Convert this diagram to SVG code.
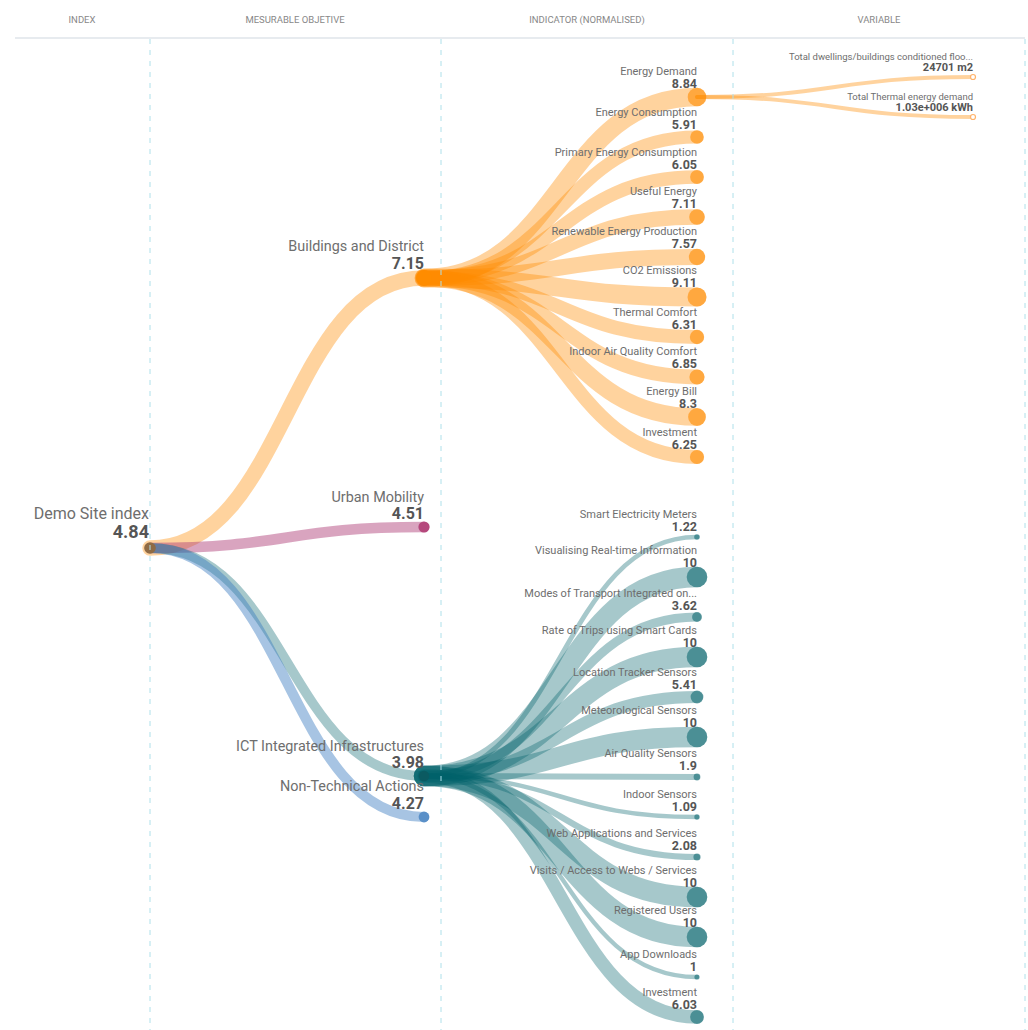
<svg xmlns="http://www.w3.org/2000/svg" width="1028" height="1030" viewBox="0 0 1028 1030">
<style>
text{font-family:Roboto,"Liberation Sans",sans-serif}
.hd{font-size:9.5px;fill:#888;text-anchor:middle}
.lk{fill:none;stroke-linecap:round}
.o{stroke:#ff8c00;stroke-opacity:.38}
.t{stroke:#00606a;stroke-opacity:.35}
.p{stroke:#b0407a;stroke-opacity:.48}
.b{stroke:#3c7dc0;stroke-opacity:.45}
.co{fill:#ff8c00;fill-opacity:.6}
.ct{fill:#00606a;fill-opacity:.55}
.c3{fill:#fff;stroke:#ffb36b;stroke-width:1.2}
.n0{font-size:16px;fill:#6e6e6e;text-anchor:end}
.v0{font-size:18px;font-weight:bold;fill:#555;text-anchor:end}
.n1{font-size:14.4px;fill:#6e6e6e;text-anchor:end}
.v1{font-size:16px;font-weight:bold;fill:#555;text-anchor:end}
.n2{font-size:11px;fill:#6e6e6e;text-anchor:end}
.v2{font-size:12.5px;font-weight:bold;fill:#555;text-anchor:end}
.n3{font-size:9.5px;fill:#6e6e6e;text-anchor:end}
.v3{font-size:11px;font-weight:bold;fill:#555;text-anchor:end}
.grid{stroke:#aee0ea;stroke-width:1;stroke-dasharray:5,6}
</style>
<rect width="1028" height="1030" fill="#fff"/>
<g id="header">
<text class="hd" x="82" y="23">INDEX</text>
<text class="hd" x="295" y="23">MESURABLE OBJETIVE</text>
<text class="hd" x="587" y="23">INDICATOR (NORMALISED)</text>
<text class="hd" x="879" y="23">VARIABLE</text>
<line x1="15" y1="38" x2="1025" y2="38" stroke="#dfe5ea" stroke-width="1.5"/>
</g>
<g id="connectors">
<path class="lk o" stroke-width="15.4" d="M150,548 C287,548 287,278 424,278"/>
<path class="lk p" stroke-width="10.6" d="M150,548 C287,548 287,527 424,527"/>
<path class="lk t" stroke-width="9.7" d="M150,548 C287,548 287,776 424,776"/>
<path class="lk b" stroke-width="10.2" d="M150,548 C287,548 287,817 424,817"/>
<path class="lk o" stroke-width="18.4" d="M424,278 C560.5,278 560.5,97 697,97"/>
<path class="lk o" stroke-width="13.1" d="M424,278 C560.5,278 560.5,137 697,137"/>
<path class="lk o" stroke-width="13.4" d="M424,278 C560.5,278 560.5,177 697,177"/>
<path class="lk o" stroke-width="15.3" d="M424,278 C560.5,278 560.5,217 697,217"/>
<path class="lk o" stroke-width="16.1" d="M424,278 C560.5,278 560.5,257 697,257"/>
<path class="lk o" stroke-width="18.9" d="M424,278 C560.5,278 560.5,297 697,297"/>
<path class="lk o" stroke-width="13.9" d="M424,278 C560.5,278 560.5,337 697,337"/>
<path class="lk o" stroke-width="14.8" d="M424,278 C560.5,278 560.5,377 697,377"/>
<path class="lk o" stroke-width="17.4" d="M424,278 C560.5,278 560.5,417 697,417"/>
<path class="lk o" stroke-width="13.8" d="M424,278 C560.5,278 560.5,457 697,457"/>
<path class="lk t" stroke-width="4.7" d="M424,776 C560.5,776 560.5,537 697,537"/>
<path class="lk t" stroke-width="20.5" d="M424,776 C560.5,776 560.5,577 697,577"/>
<path class="lk t" stroke-width="9" d="M424,776 C560.5,776 560.5,617 697,617"/>
<path class="lk t" stroke-width="20.5" d="M424,776 C560.5,776 560.5,657 697,657"/>
<path class="lk t" stroke-width="12.2" d="M424,776 C560.5,776 560.5,697 697,697"/>
<path class="lk t" stroke-width="20.5" d="M424,776 C560.5,776 560.5,737 697,737"/>
<path class="lk t" stroke-width="5.9" d="M424,776 C560.5,776 560.5,777 697,777"/>
<path class="lk t" stroke-width="4.5" d="M424,776 C560.5,776 560.5,817 697,817"/>
<path class="lk t" stroke-width="6.2" d="M424,776 C560.5,776 560.5,857 697,857"/>
<path class="lk t" stroke-width="20.5" d="M424,776 C560.5,776 560.5,897 697,897"/>
<path class="lk t" stroke-width="20.5" d="M424,776 C560.5,776 560.5,937 697,937"/>
<path class="lk t" stroke-width="4.3" d="M424,776 C560.5,776 560.5,977 697,977"/>
<path class="lk t" stroke-width="13.4" d="M424,776 C560.5,776 560.5,1017 697,1017"/>
<path class="lk o" stroke-width="4" d="M697,97 C835,97 835,77 973,77"/>
<path class="lk o" stroke-width="4" d="M697,97 C835,97 835,117 973,117"/>
</g>
<g id="node-root">
<circle cx="150" cy="548" r="5.8" fill="#8f6b45"/>
<text class="n0" x="149" y="519">Demo Site index</text>
<text class="v0" x="149" y="538">4.84</text>
</g>
<g id="node-buildings">
<circle cx="424" cy="278" r="7.9" fill="#ff8c00"/>
<text class="n1" x="424" y="251">Buildings and District</text>
<text class="v1" x="424" y="268.5">7.15</text>
</g>
<g id="node-mobility">
<circle cx="424" cy="527" r="5.6" fill="#b5487c"/>
<text class="n1" x="424" y="502">Urban Mobility</text>
<text class="v1" x="424" y="519">4.51</text>
</g>
<g id="node-ict">
<circle cx="424" cy="776" r="5.2" fill="#0b5a61"/>
<text class="n1" x="424" y="751">ICT Integrated Infrastructures</text>
<text class="v1" x="424" y="768">3.98</text>
</g>
<g id="node-nontech">
<circle cx="424" cy="817" r="5.4" fill="#5a90c8"/>
<text class="n1" x="424" y="791">Non-Technical Actions</text>
<text class="v1" x="424" y="809">4.27</text>
</g>
<g id="node-energy-demand"><circle class="co" cx="697" cy="97" r="9.3"/><text class="n2" x="697" y="74.5">Energy Demand</text><text class="v2" x="697" y="87.5">8.84</text></g>
<g id="node-energy-consumption"><circle class="co" cx="697" cy="137" r="6.8"/><text class="n2" x="697" y="115.5">Energy Consumption</text><text class="v2" x="697" y="128.5">5.91</text></g>
<g id="node-primary-energy"><circle class="co" cx="697" cy="177" r="6.9"/><text class="n2" x="697" y="155.5">Primary Energy Consumption</text><text class="v2" x="697" y="168.5">6.05</text></g>
<g id="node-useful-energy"><circle class="co" cx="697" cy="217" r="7.8"/><text class="n2" x="697" y="195">Useful Energy</text><text class="v2" x="697" y="208">7.11</text></g>
<g id="node-renewable"><circle class="co" cx="697" cy="257" r="8.2"/><text class="n2" x="697" y="235">Renewable Energy Production</text><text class="v2" x="697" y="248">7.57</text></g>
<g id="node-co2"><circle class="co" cx="697" cy="297" r="9.5"/><text class="n2" x="697" y="274">CO2 Emissions</text><text class="v2" x="697" y="287">9.11</text></g>
<g id="node-thermal-comfort"><circle class="co" cx="697" cy="337" r="7.2"/><text class="n2" x="697" y="315.5">Thermal Comfort</text><text class="v2" x="697" y="328.5">6.31</text></g>
<g id="node-indoor-air"><circle class="co" cx="697" cy="377" r="7.6"/><text class="n2" x="697" y="355">Indoor Air Quality Comfort</text><text class="v2" x="697" y="368">6.85</text></g>
<g id="node-energy-bill"><circle class="co" cx="697" cy="417" r="8.9"/><text class="n2" x="697" y="394.5">Energy Bill</text><text class="v2" x="697" y="407.5">8.3</text></g>
<g id="node-investment-bd"><circle class="co" cx="697" cy="457" r="7.1"/><text class="n2" x="697" y="435.5">Investment</text><text class="v2" x="697" y="448.5">6.25</text></g>
<g id="node-smart-meters"><circle class="ct" cx="697" cy="537" r="2.8"/><text class="n2" x="697" y="517.5">Smart Electricity Meters</text><text class="v2" x="697" y="530.5">1.22</text></g>
<g id="node-visualising"><circle class="ct" cx="697" cy="577" r="10.3"/><text class="n2" x="697" y="553.5">Visualising Real-time Information</text><text class="v2" x="697" y="566.5">10</text></g>
<g id="node-modes-transport"><circle class="ct" cx="697" cy="617" r="4.9"/><text class="n2" x="697" y="596.5">Modes of Transport Integrated on...</text><text class="v2" x="697" y="609.5">3.62</text></g>
<g id="node-smart-cards"><circle class="ct" cx="697" cy="657" r="10.3"/><text class="n2" x="697" y="633.5">Rate of Trips using Smart Cards</text><text class="v2" x="697" y="646.5">10</text></g>
<g id="node-location"><circle class="ct" cx="697" cy="697" r="6.4"/><text class="n2" x="697" y="675.5">Location Tracker Sensors</text><text class="v2" x="697" y="688.5">5.41</text></g>
<g id="node-meteo"><circle class="ct" cx="697" cy="737" r="10.3"/><text class="n2" x="697" y="713.5">Meteorological Sensors</text><text class="v2" x="697" y="726.5">10</text></g>
<g id="node-air-quality"><circle class="ct" cx="697" cy="777" r="3.4"/><text class="n2" x="697" y="757">Air Quality Sensors</text><text class="v2" x="697" y="770">1.9</text></g>
<g id="node-indoor-sensors"><circle class="ct" cx="697" cy="817" r="2.7"/><text class="n2" x="697" y="797.5">Indoor Sensors</text><text class="v2" x="697" y="810.5">1.09</text></g>
<g id="node-web-apps"><circle class="ct" cx="697" cy="857" r="3.6"/><text class="n2" x="697" y="837">Web Applications and Services</text><text class="v2" x="697" y="850">2.08</text></g>
<g id="node-visits"><circle class="ct" cx="697" cy="897" r="10.3"/><text class="n2" x="697" y="873.5">Visits / Access to Webs / Services</text><text class="v2" x="697" y="886.5">10</text></g>
<g id="node-registered"><circle class="ct" cx="697" cy="937" r="10.3"/><text class="n2" x="697" y="913.5">Registered Users</text><text class="v2" x="697" y="926.5">10</text></g>
<g id="node-app-downloads"><circle class="ct" cx="697" cy="977" r="2.6"/><text class="n2" x="697" y="957.5">App Downloads</text><text class="v2" x="697" y="970.5">1</text></g>
<g id="node-investment-ict"><circle class="ct" cx="697" cy="1017" r="6.9"/><text class="n2" x="697" y="995.5">Investment</text><text class="v2" x="697" y="1008.5">6.03</text></g>
<g id="node-floor-area"><circle class="c3" cx="973" cy="77" r="2.5"/><text class="n3" x="973" y="60">Total dwellings/buildings conditioned floo...</text><text class="v3" x="973" y="71">24701 m2</text></g>
<g id="node-thermal-demand"><circle class="c3" cx="973" cy="117" r="2.5"/><text class="n3" x="973" y="100">Total Thermal energy demand</text><text class="v3" x="973" y="111">1.03e+006 kWh</text></g>
<g id="grid">
<line class="grid" x1="150" y1="39" x2="150" y2="1030"/>
<line class="grid" x1="441" y1="39" x2="441" y2="1030"/>
<line class="grid" x1="733" y1="39" x2="733" y2="1030"/>
<line class="grid" x1="1025" y1="39" x2="1025" y2="1030"/>
</g>
</svg>
